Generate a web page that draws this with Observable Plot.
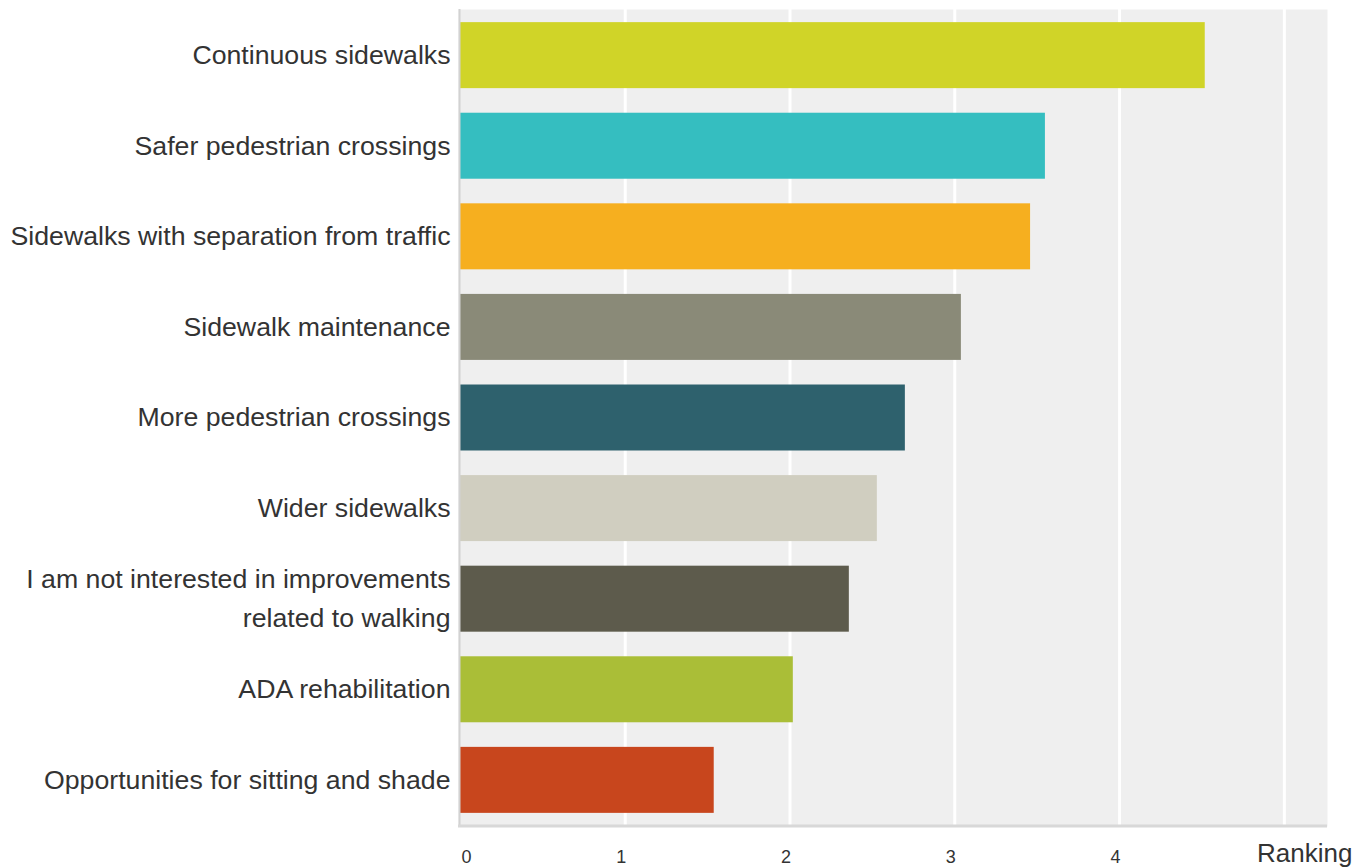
<!DOCTYPE html>
<html>
<head>
<meta charset="utf-8">
<script src="https://cdn.jsdelivr.net/npm/d3@7"></script>
<script src="https://cdn.jsdelivr.net/npm/@observablehq/plot@0.6"></script>
<style>
  html, body { margin: 0; padding: 0; background: #fff; }
  svg { display: block; }
</style>
</head>
<body>
<div id="chart"></div>
<script>
const categories = [
  "Continuous sidewalks",
  "Safer pedestrian crossings",
  "Sidewalks with separation from traffic",
  "Sidewalk maintenance",
  "More pedestrian crossings",
  "Wider sidewalks",
  "I am not interested in improvements\nrelated to walking",
  "ADA rehabilitation",
  "Opportunities for sitting and shade"
];
const values = [4.52, 3.55, 3.46, 3.04, 2.70, 2.53, 2.36, 2.02, 1.54];
const colors = ["#D0D428", "#35BEC0", "#F6AF1F", "#8A8A78", "#2E616D", "#D0CEC0", "#5D5B4C", "#AABE37", "#C8461D"];
const xTicks = [0, 1, 2, 3, 4];
const gridTicks = [1, 2, 3, 4, 5];
const axisTitle = "Ranking";

const data = categories.map((c, i) => ({category: c, value: values[i], color: colors[i]}));

const chart = Plot.plot({
  width: 1358,
  height: 867,
  marginLeft: 458,
  marginRight: 31,
  marginTop: 9,
  marginBottom: 41,
  style: {fontFamily: "'Liberation Sans', Arial, sans-serif", background: "#fff"},
  x: {domain: [-0.012, 5.262], axis: null},
  y: {domain: categories, paddingInner: 0.2715, paddingOuter: 0.145, round: false, axis: null},
  marks: [
    Plot.frame({fill: "#efefef", stroke: null}),
    Plot.ruleX(gridTicks, {stroke: "#ffffff", strokeWidth: 3}),
    Plot.barX(data, {y: "category", x1: 0, x2: "value", fill: "color"}),
    Plot.ruleX([-0.012], {stroke: "#d2d2d2", strokeWidth: 2, dx: 1}),
    Plot.text(categories, {
      y: d => d, text: d => d, frameAnchor: "left", textAnchor: "end", lineAnchor: "middle",
      dx: -8, dy: -4, fontSize: 26.7, fill: "#333", lineHeight: 1.46
    }),
    Plot.text(xTicks.filter(d => d === 0), {
      x: d => d, text: d => String(d), frameAnchor: "bottom", lineAnchor: "middle", dy: 31,
      fontSize: 18, fill: "#333", dx: 6
    }),
    Plot.text(xTicks.filter(d => d !== 0), {
      x: d => d, text: d => String(d), frameAnchor: "bottom", lineAnchor: "middle", dy: 31,
      fontSize: 18, fill: "#333", dx: -4
    }),
    Plot.text([axisTitle], {
      x: 5.262, text: d => d, frameAnchor: "bottom", textAnchor: "end", lineAnchor: "middle",
      dx: 25, dy: 27, fontSize: 26, fill: "#333"
    })
  ]
});

// bottom axis line
d3.select(chart).append("line")
  .attr("x1", 458).attr("x2", 1327)
  .attr("y1", 826).attr("y2", 826)
  .attr("stroke", "#d8d8d8").attr("stroke-width", 3);

document.getElementById("chart").appendChild(chart);
</script>
</body>
</html>
